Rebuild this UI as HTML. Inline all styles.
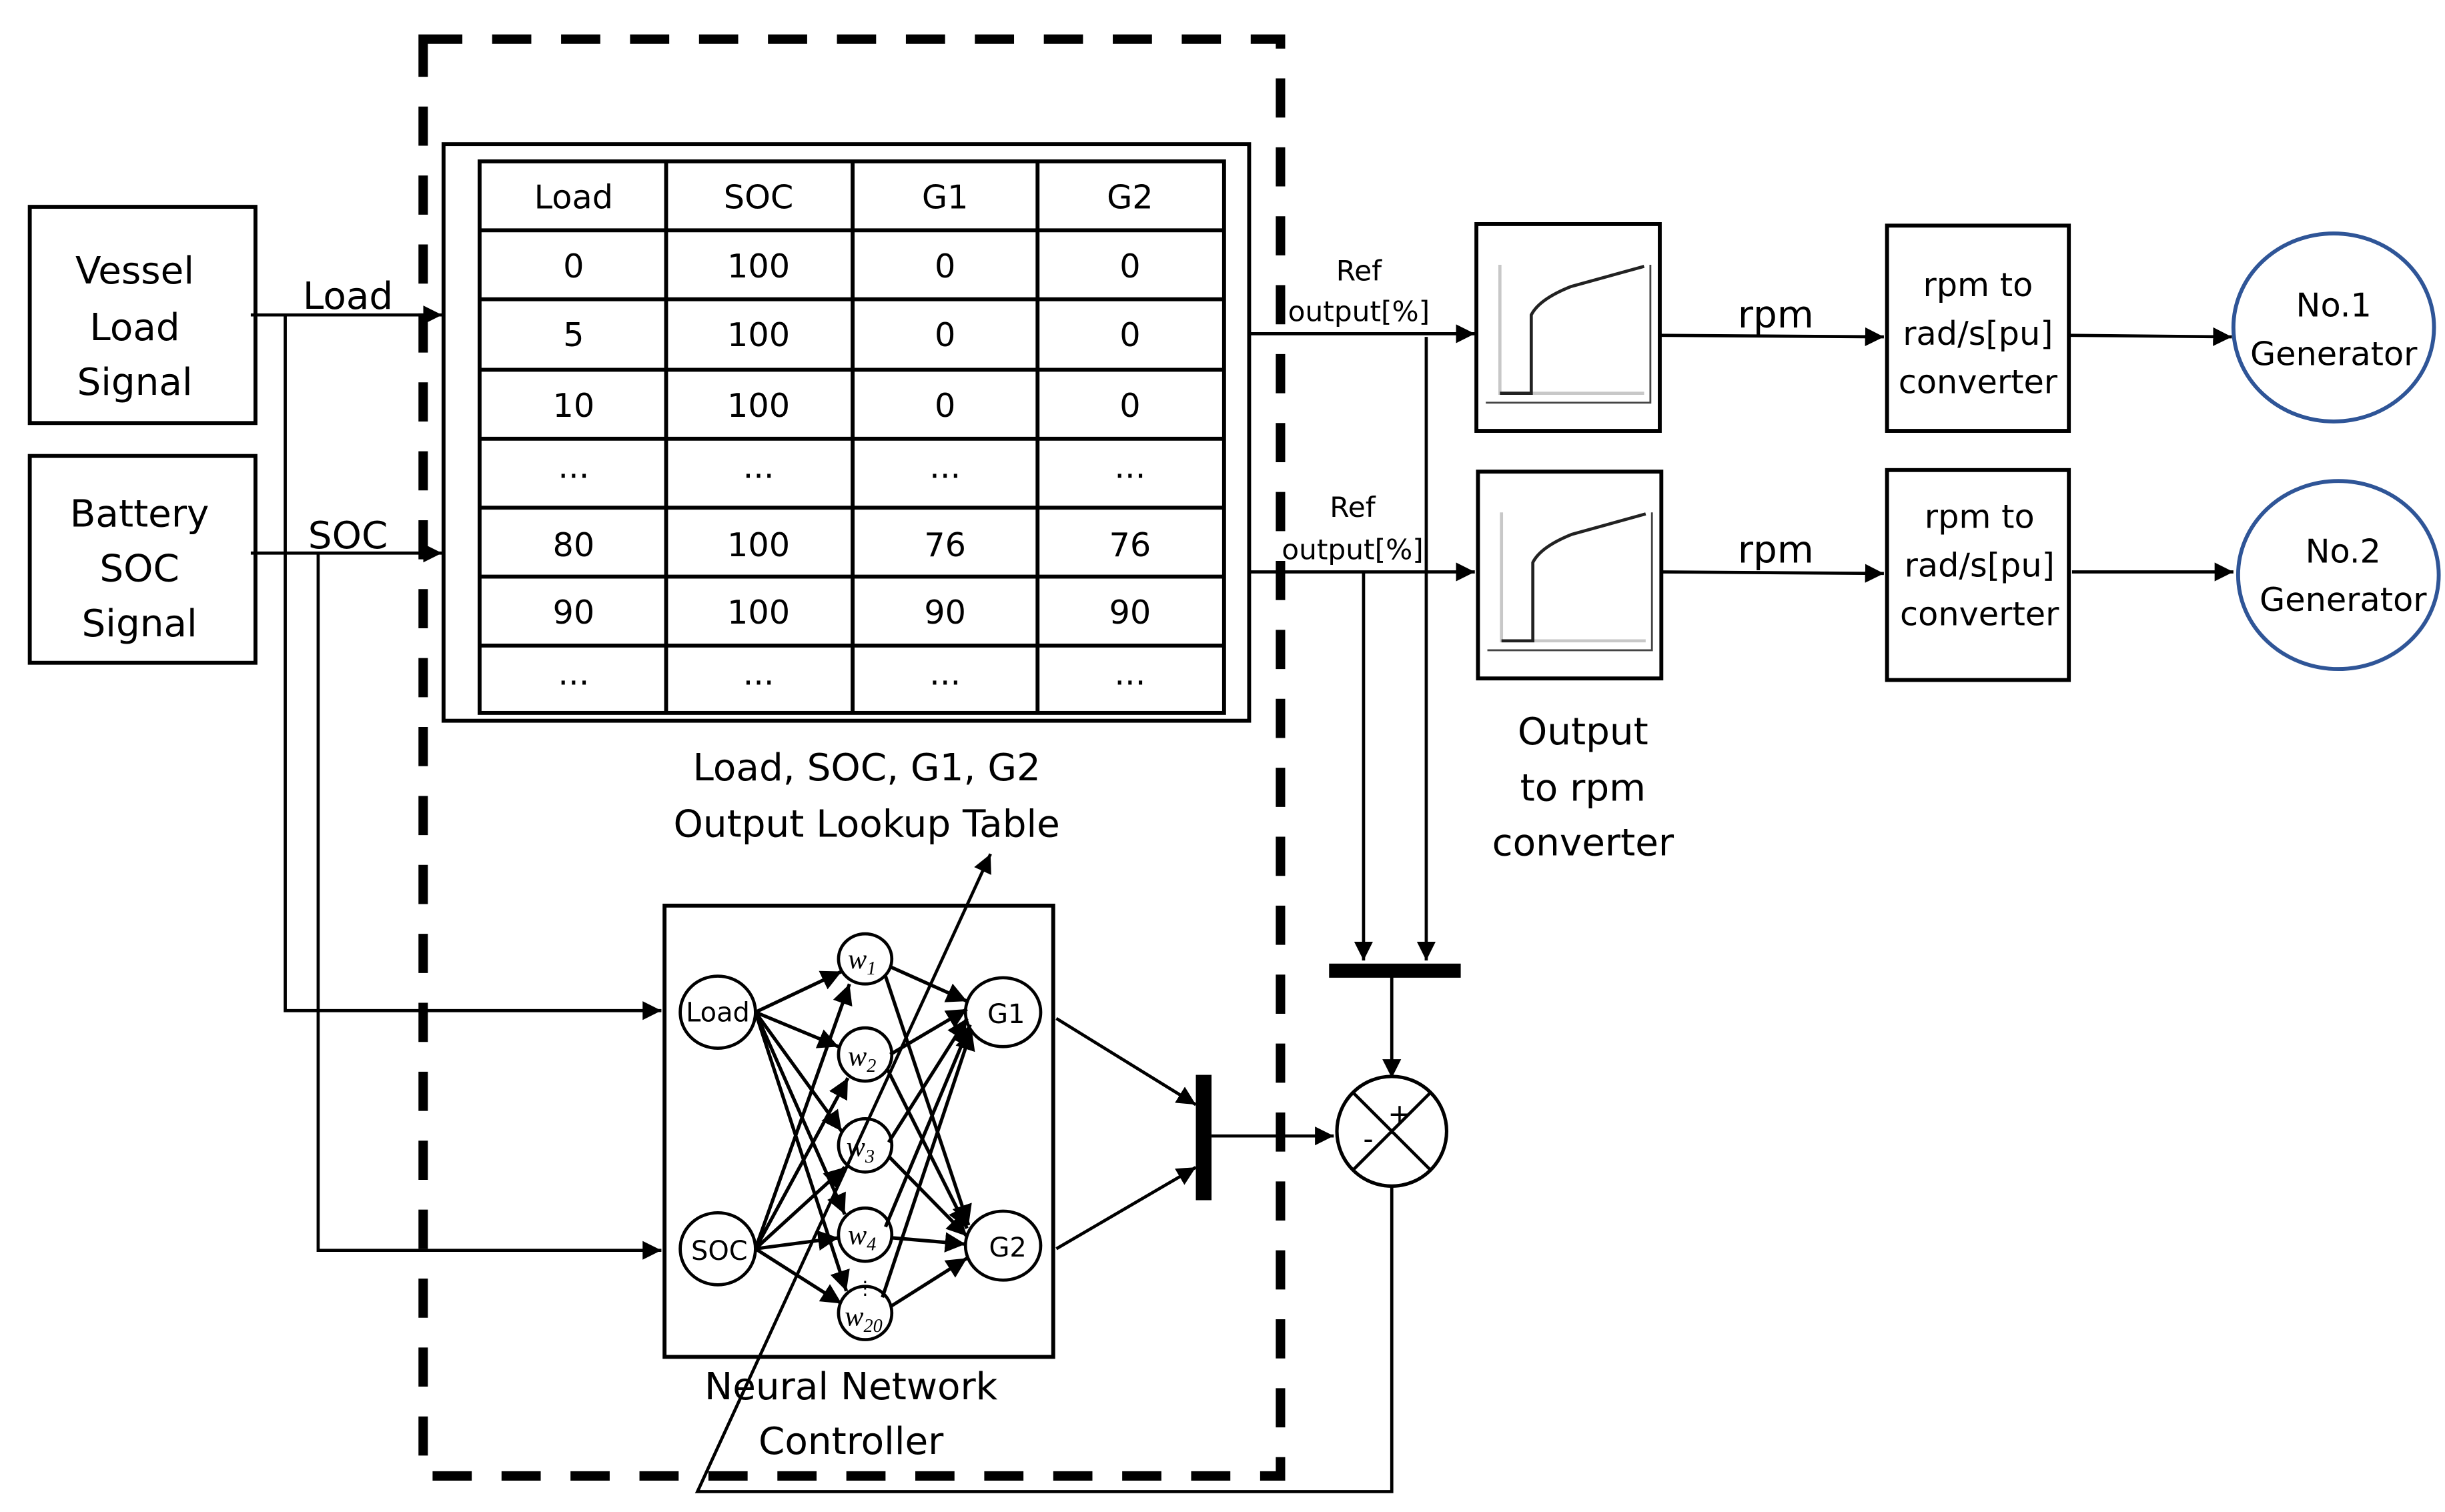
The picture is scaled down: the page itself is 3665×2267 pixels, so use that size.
<!DOCTYPE html>
<html><head><meta charset="utf-8"><style>html,body{margin:0;padding:0;background:#fff}svg{display:block}</style></head>
<body>
<svg width="3665" height="2267" viewBox="0 0 1560 965" preserveAspectRatio="none" xmlns="http://www.w3.org/2000/svg" font-family="'DejaVu Sans','Liberation Sans',sans-serif">
<defs>
<marker id="a" viewBox="0 0 10 10" refX="10" refY="5" markerWidth="12" markerHeight="12" markerUnits="userSpaceOnUse" orient="auto"><path d="M0,0L10,5L0,10z" fill="#000"/></marker>
<marker id="s" viewBox="0 0 10 10" refX="10" refY="5" markerWidth="13" markerHeight="13" markerUnits="userSpaceOnUse" orient="auto"><path d="M0,0L10,5L0,10z" fill="#000"/></marker>
<g id="conv">
<rect x="0" y="0" width="117" height="132" fill="#fff" stroke="#000" stroke-width="2.5"/>
<path d="M15,26V108H107" fill="none" stroke="#c8c8c8" stroke-width="2"/>
<path d="M15,108H35V58Q40,48 60,40L107,27" fill="none" stroke="#222" stroke-width="2"/>
<path d="M6,114H111V26" fill="none" stroke="#444" stroke-width="1.2"/>
</g>
</defs>
<rect width="1560" height="965" fill="#fff"/>
<rect x="270" y="25" width="547" height="917" fill="none" stroke="#000" stroke-width="6" stroke-dasharray="25,19"/>
<g fill="none" stroke="#000" stroke-width="2.5">
<rect x="19" y="132" width="144" height="138"/>
<rect x="19" y="291" width="144" height="132"/>
</g>
<g font-size="24" text-anchor="middle" fill="#000">
<text x="86" y="181">Vessel</text><text x="86" y="217">Load</text><text x="86" y="252">Signal</text>
<text x="89" y="336">Battery</text><text x="89" y="371">SOC</text><text x="89" y="406">Signal</text>
<text x="222" y="197">Load</text><text x="222" y="350">SOC</text>
</g>
<g stroke="#000" stroke-width="2" fill="none">
<path d="M160,201H282" marker-end="url(#a)"/>
<path d="M160,353H282" marker-end="url(#a)"/>
<path d="M182,201V645H422" marker-end="url(#a)"/>
<path d="M203,353V798H422" marker-end="url(#a)"/>
</g>
<rect x="283" y="92" width="514" height="368" fill="none" stroke="#000" stroke-width="2.5"/>
<g stroke="#000" stroke-width="2.5" fill="none">
<rect x="306" y="103" width="475" height="352"/>
<path d="M425,103V455M544,103V455M662,103V455M306,147H781M306,191H781M306,236H781M306,280H781M306,324H781M306,368H781M306,412H781"/>
</g>
<g font-size="21" text-anchor="middle" fill="#000">
<text x="366" y="133">Load</text><text x="484" y="133">SOC</text><text x="603" y="133">G1</text><text x="721" y="133">G2</text>
<text x="366" y="177">0</text><text x="484" y="177">100</text><text x="603" y="177">0</text><text x="721" y="177">0</text>
<text x="366" y="221">5</text><text x="484" y="221">100</text><text x="603" y="221">0</text><text x="721" y="221">0</text>
<text x="366" y="266">10</text><text x="484" y="266">100</text><text x="603" y="266">0</text><text x="721" y="266">0</text>
<text x="366" y="305">...</text><text x="484" y="305">...</text><text x="603" y="305">...</text><text x="721" y="305">...</text>
<text x="366" y="355">80</text><text x="484" y="355">100</text><text x="603" y="355">76</text><text x="721" y="355">76</text>
<text x="366" y="398">90</text><text x="484" y="398">100</text><text x="603" y="398">90</text><text x="721" y="398">90</text>
<text x="366" y="437">...</text><text x="484" y="437">...</text><text x="603" y="437">...</text><text x="721" y="437">...</text>
</g>
<g font-size="24" text-anchor="middle" fill="#000">
<text x="553" y="498">Load, SOC, G1, G2</text><text x="553" y="534">Output Lookup Table</text>
<text x="543" y="893">Neural Network</text><text x="543" y="928">Controller</text>
<text x="1010" y="475">Output</text><text x="1010" y="511">to rpm</text><text x="1010" y="546">converter</text>
</g>
<rect x="424" y="578" width="248" height="288" fill="none" stroke="#000" stroke-width="2.5"/>
<g stroke="#000" stroke-width="2" fill="#fff">
<ellipse cx="458" cy="646" rx="24" ry="23"/><ellipse cx="458" cy="797" rx="24" ry="23"/>
<ellipse cx="552" cy="612" rx="17" ry="16"/><ellipse cx="552" cy="673" rx="17" ry="17"/>
<ellipse cx="552" cy="731" rx="17" ry="17"/><ellipse cx="552" cy="788" rx="17" ry="17"/>
<ellipse cx="552" cy="838" rx="17" ry="17"/>
<ellipse cx="640" cy="646" rx="24" ry="22"/><ellipse cx="640" cy="795" rx="24" ry="22"/>
</g>
<g stroke="#000" stroke-width="2.2" fill="none" marker-end="url(#s)">
<path d="M482,646L537,620"/><path d="M482,646L535,668"/><path d="M482,646L537,722"/><path d="M482,646L539,775"/><path d="M482,646L540,824"/>
<path d="M482,797L542,628"/><path d="M482,797L541,688"/><path d="M482,797L539,745"/><path d="M482,797L535,790"/><path d="M482,797L537,832"/>
<path d="M568,617L617,639"/><path d="M568,673L617,644"/><path d="M567,729L617,650"/><path d="M565,783L619,654"/><path d="M563,828L620,657"/>
<path d="M565,623L618,782"/><path d="M566,682L617,784"/><path d="M567,738L617,789"/><path d="M569,790L616,794"/><path d="M568,834L617,803"/>
</g>
<g font-size="17" text-anchor="middle" fill="#000">
<text x="458" y="652">Load</text><text x="459" y="804">SOC</text>
<text x="642" y="653">G1</text><text x="643" y="802">G2</text>
</g>
<g font-size="18" font-style="italic" font-family="'Liberation Serif',serif" fill="#000">
<text x="541" y="618">w<tspan font-size="12" dy="4">1</tspan></text>
<text x="541" y="680">w<tspan font-size="12" dy="4">2</tspan></text>
<text x="540" y="738">w<tspan font-size="12" dy="4">3</tspan></text>
<text x="541" y="794">w<tspan font-size="12" dy="4">4</tspan></text>
<text x="539" y="846">w<tspan font-size="12" dy="4">20</tspan></text>
</g>
<text x="552" y="826" font-size="12" text-anchor="middle">⋮</text>
<g stroke="#000" stroke-width="2" fill="none" marker-end="url(#a)">
<path d="M674,650L763,705"/><path d="M674,797L763,745"/>
<path d="M773,725H851"/>
<path d="M797,213H941"/>
<path d="M797,365H941"/>
<path d="M910,215V613"/>
<path d="M870,365V613"/>
<path d="M888,623V688"/>
<path d="M888,757V952H445L632,545"/>
<path d="M1059,214L1202,215"/>
<path d="M1059,365L1202,366"/>
<path d="M1320,214L1424,215"/>
<path d="M1322,365L1425,365"/>
</g>
<rect x="763" y="686" width="10" height="80" fill="#000"/>
<rect x="848" y="615" width="84" height="9" fill="#000"/>
<circle cx="888" cy="722" r="35" fill="none" stroke="#000" stroke-width="2.2"/>
<path d="M863,697L913,747M913,697L863,747" stroke="#000" stroke-width="2"/>
<text x="893" y="717" font-size="18" text-anchor="middle">+</text>
<text x="873" y="733" font-size="18" text-anchor="middle">-</text>
<g font-size="18" text-anchor="middle" fill="#000">
<text x="867" y="179">Ref</text><text x="867" y="205">output[%]</text>
<text x="863" y="330">Ref</text><text x="863" y="357">output[%]</text>
</g>
<use href="#conv" x="942" y="143"/>
<use href="#conv" x="943" y="301"/>
<g font-size="24" text-anchor="middle" fill="#000">
<text x="1133" y="209">rpm</text><text x="1133" y="359">rpm</text>
</g>
<g fill="none" stroke="#000" stroke-width="2.5">
<rect x="1204" y="144" width="116" height="131"/>
<rect x="1204" y="300" width="116" height="134"/>
</g>
<g font-size="21" text-anchor="middle" fill="#000">
<text x="1262" y="189">rpm to</text><text x="1262" y="220">rad/s[pu]</text><text x="1262" y="251">converter</text>
<text x="1263" y="337">rpm to</text><text x="1263" y="368">rad/s[pu]</text><text x="1263" y="399">converter</text>
</g>
<g fill="none" stroke="#2f5597" stroke-width="2.5">
<ellipse cx="1489" cy="209" rx="64" ry="60"/>
<ellipse cx="1492" cy="367" rx="64" ry="60"/>
</g>
<g font-size="21" text-anchor="middle" fill="#000">
<text x="1489" y="202">No.1</text><text x="1489" y="233">Generator</text>
<text x="1495" y="359">No.2</text><text x="1495" y="390">Generator</text>
</g>
</svg>
</body></html>
